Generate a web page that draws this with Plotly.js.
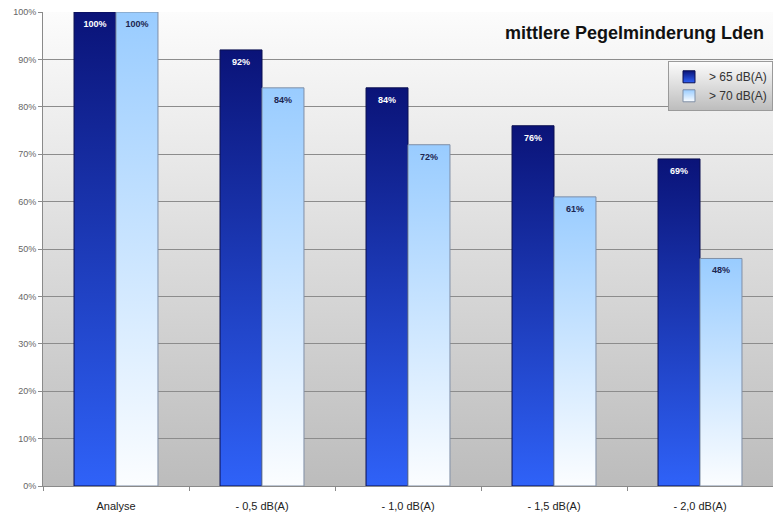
<!DOCTYPE html>
<html><head><meta charset="utf-8">
<script src="https://cdn.plot.ly/plotly-3.0.1.min.js"></script>
<style>html,body{margin:0;padding:0;background:#fff}#chart{width:773px;height:515px}</style>
</head><body><div id="chart"></div>
<script>
const categories = ['Analyse', '- 0,5 dB(A)', '- 1,0 dB(A)', '- 1,5 dB(A)', '- 2,0 dB(A)'];
const series65 = [100, 92, 84, 76, 69];
const series70 = [100, 84, 72, 61, 48];
const seriesNames = ['> 65 dB(A)', '> 70 dB(A)'];
const chartTitle = 'mittlere Pegelminderung Lden';

const FONT = 'Arial, "Liberation Sans", sans-serif';

const traces = [
  {
    type: 'bar', name: seriesNames[0], x: categories, y: series65,
    marker: {color: '#1a2fb0', line: {color: '#0a0f50', width: 1}},
    texttemplate: '%{y:.0f}%', textposition: 'inside', insidetextanchor: 'end',
    textfont: {family: FONT, size: 9, color: '#ffffff', weight: 'bold'},
    constraintext: 'none', hoverinfo: 'none'
  },
  {
    type: 'bar', name: seriesNames[1], x: categories, y: series70,
    marker: {color: '#c8e2ff', line: {color: '#7f8fa6', width: 1}},
    texttemplate: '%{y:.0f}%', textposition: 'inside', insidetextanchor: 'end',
    textfont: {family: FONT, size: 9, color: '#1c2550', weight: 'bold'},
    constraintext: 'none', hoverinfo: 'none'
  }
];

const layout = {
  width: 773, height: 515,
  margin: {l: 43, r: 0, t: 12, b: 29, pad: 0},
  paper_bgcolor: '#ffffff', plot_bgcolor: '#e0e0e0',
  barmode: 'group', bargap: 0.425, bargroupgap: 0,
  showlegend: true,
  legend: {
    x: 1, xanchor: 'right', y: 0.896, yanchor: 'top',
    bgcolor: '#ffffff', bordercolor: '#9a9a9a', borderwidth: 1,
    font: {family: FONT, size: 12, color: '#333333'},
    itemwidth: 30, tracegroupgap: 0
  },
  xaxis: {
    type: 'category', showgrid: false, showline: true, linecolor: '#8a8a8a', linewidth: 1,
    ticks: 'outside', tickson: 'boundaries', ticklen: 4, tickcolor: '#8a8a8a',
    ticklabelstandoff: 10,
    tickfont: {family: FONT, size: 11, color: '#222222'}, fixedrange: true
  },
  yaxis: {
    range: [0, 100], dtick: 10, ticksuffix: '%',
    showgrid: true, gridcolor: '#8c8c8c', gridwidth: 1,
    showline: true, linecolor: '#8a8a8a', linewidth: 1,
    ticks: 'outside', ticklen: 4, tickcolor: '#8a8a8a',
    tickfont: {family: FONT, size: 9, color: '#666666'}, zeroline: false, fixedrange: true
  },
  annotations: [{
    text: chartTitle, xref: 'paper', yref: 'paper', x: 0.99, y: 0.956,
    xanchor: 'right', yanchor: 'middle', showarrow: false,
    font: {family: FONT, size: 18, color: '#111111', weight: 'bold'}
  }]
};

Plotly.newPlot('chart', traces, layout, {displayModeBar: false, staticPlot: true}).then(gd => {
  const ns = 'http://www.w3.org/2000/svg';
  const svg = gd.querySelector('svg.main-svg');
  let defs = svg.querySelector('defs');
  if (!defs) { defs = document.createElementNS(ns, 'defs'); svg.insertBefore(defs, svg.firstChild); }
  function addGrad(id, c0, c1) {
    const g = document.createElementNS(ns, 'linearGradient');
    g.setAttribute('id', id);
    g.setAttribute('x1', '0'); g.setAttribute('y1', '0');
    g.setAttribute('x2', '0'); g.setAttribute('y2', '1');
    [[0, c0], [1, c1]].forEach(([o, c]) => {
      const s = document.createElementNS(ns, 'stop');
      s.setAttribute('offset', o); s.setAttribute('stop-color', c);
      g.appendChild(s);
    });
    defs.appendChild(g);
  }
  addGrad('grad65', '#0a1378', '#2f62f8');
  addGrad('grad70', '#99ccff', '#fbfdff');
  addGrad('gradbg', '#fcfcfc', '#bcbcbc');
  const ids = ['grad65', 'grad70'];
  gd.querySelectorAll('.barlayer .trace.bars').forEach((t, i) => {
    t.querySelectorAll('.point path').forEach(p => { p.style.fill = 'url(#' + ids[i] + ')'; });
    t.querySelectorAll('.point text').forEach(tx => {
      tx.setAttribute('transform', 'translate(0,4) ' + (tx.getAttribute('transform') || ''));
    });
  });
  gd.querySelectorAll('.legend .traces').forEach((t, i) => {
    t.querySelectorAll('.legendpoints path').forEach(p => { p.style.fill = 'url(#' + ids[i] + ')'; });
  });
  gd.querySelectorAll('rect.bg').forEach(r => {
    const w = parseFloat(r.getAttribute('width'));
    if (w && w < 770) r.style.fill = 'url(#gradbg)';
  });
});
</script>
</body></html>
